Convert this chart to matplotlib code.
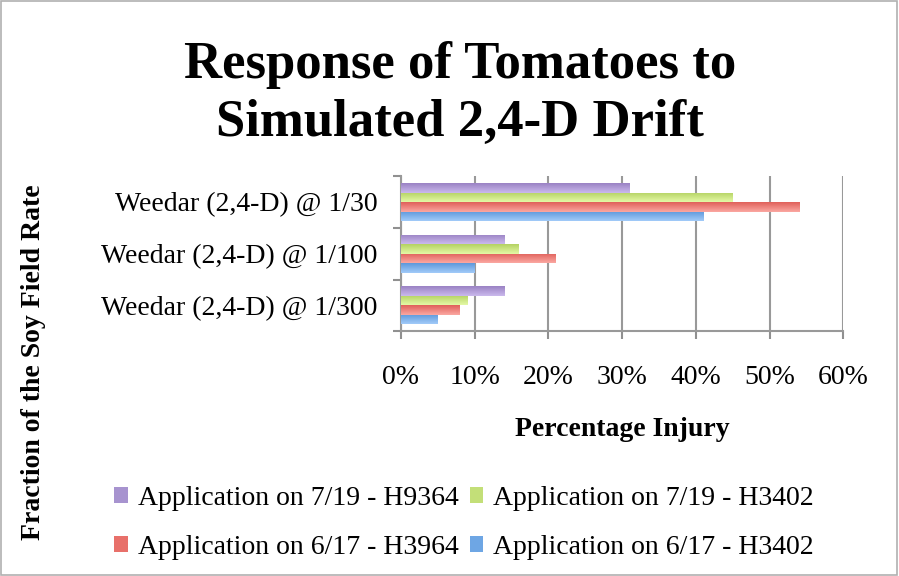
import numpy as np
import matplotlib.pyplot as plt
from matplotlib.patches import Rectangle, Patch
from matplotlib.colors import LinearSegmentedColormap

categories = ['Weedar (2,4-D) @ 1/30', 'Weedar (2,4-D) @ 1/100', 'Weedar (2,4-D) @ 1/300']
series_names = ['Application on 7/19 - H9364', 'Application on 7/19 - H3402',
                'Application on 6/17 - H3964', 'Application on 6/17 - H3402']
purple_7_19 = [31, 14, 14]
green_7_19 = [45, 16, 9]
red_6_17 = [54, 21, 8]
blue_6_17 = [41, 10, 5]
xticks = [0, 10, 20, 30, 40, 50, 60]

# light (top) / dark (bottom) of each bar's gradient
light = ['#cbb9ec', '#e4f9a6', '#fba8a2', '#a2cbf9']
dark = ['#9a82c4', '#b4d262', '#e0605a', '#5e98db']
colors = ['#a793cf', '#c3df78', '#e8706a', '#6ea6e4']

plt.rcParams['font.family'] = ['Liberation Serif', 'DejaVu Serif']

fig = plt.figure(figsize=(8.99, 5.76), dpi=100)
fig.patches.append(Rectangle((0.001, 0.001), 0.997, 0.997, transform=fig.transFigure,
                             fill=False, edgecolor='#b0b0b0', linewidth=1.2))

ax = fig.add_axes([0.446, 0.425, 0.492, 0.269])

series = [purple_7_19, green_7_19, red_6_17, blue_6_17]
n = len(categories)
pos = np.arange(n)[::-1] + 0.5
h = 0.185
grad = np.linspace(1, 0, 64).reshape(-1, 1)
for i, vals in enumerate(series):
    cmap = LinearSegmentedColormap.from_list('g%d' % i, [dark[i], light[i]])
    y = pos + (1.5 - i) * h
    bars = ax.barh(y, vals, height=h, color=colors[i], linewidth=0, zorder=3)
    for b in bars:
        x0, y0 = b.get_x(), b.get_y()
        w, bh = b.get_width(), b.get_height()
        im = ax.imshow(grad, cmap=cmap, aspect='auto', extent=(x0, x0 + w, y0, y0 + bh),
                       origin='lower', zorder=4, interpolation='bilinear')
        im.set_clip_path(b)

ax.set_xlim(0, 60)
ax.set_ylim(0, n)
ax.set_xticks(xticks)
ax.set_xticklabels(['%d%%' % t for t in xticks], fontsize=20)
ax.set_yticks(pos)
ax.set_yticklabels(categories, fontsize=20)
ax.set_yticks(np.arange(n + 1), minor=True)
ax.tick_params(axis='y', which='major', length=0, pad=17)
ax.tick_params(axis='y', which='minor', length=6, color='#909090', width=1.5)
ax.tick_params(axis='x', length=6, color='#909090', width=1.5, pad=18)
ax.grid(axis='x', color='#999999', linewidth=1.5, zorder=0)
for s in ['top', 'right']:
    ax.spines[s].set_visible(False)
for s in ['left', 'bottom']:
    ax.spines[s].set_color('#999999')
    ax.spines[s].set_linewidth(1.5)

ax.set_xlabel('Percentage Injury', fontsize=20, fontweight='bold', labelpad=20)
fig.text(0.037, 0.371, 'Fraction of the Soy Field Rate', rotation=90, fontsize=20,
         fontweight='bold', ha='center', va='center')

fig.text(0.512, 0.887, 'Response of Tomatoes to', fontsize=38, fontweight='bold',
         ha='center', va='center')
fig.text(0.512, 0.787, 'Simulated 2,4-D Drift', fontsize=38, fontweight='bold',
         ha='center', va='center')

handles = [Patch(facecolor=colors[i], edgecolor='none') for i in range(4)]
order = [0, 2, 1, 3]
fig.legend([handles[i] for i in order], [series_names[i] for i in order],
           ncol=2, loc='center', bbox_to_anchor=(0.516, 0.092), frameon=False,
           fontsize=20, handlelength=0.5, handleheight=0.5, handletextpad=0.35,
           columnspacing=0.4, labelspacing=0.85)

fig.savefig('out.png', dpi=100)
